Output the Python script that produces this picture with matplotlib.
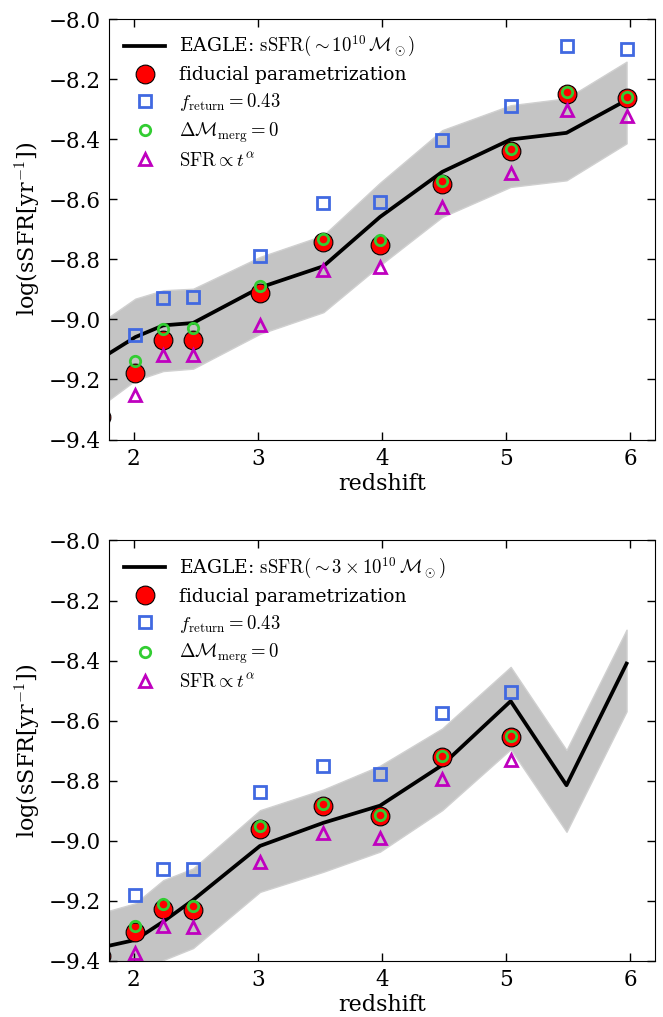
import matplotlib
matplotlib.use('Agg')
from matplotlib import pyplot as plt

plt.rcParams['font.family'] = ['DejaVu Serif']
plt.rcParams['mathtext.fontset'] = 'cm'

# EAGLE snapshot redshifts
z_snap = [1.737, 2.012, 2.237, 2.478, 3.017, 3.528, 3.984, 4.485, 5.037, 5.487, 5.971]

# top panel: ~1e10 Msun
eagle_top = [-9.130, -9.059, -9.020, -9.012, -8.894, -8.823, -8.659, -8.509, -8.401, -8.379, -8.270]
eagle_top_hi = [-9.010, -8.931, -8.903, -8.898, -8.792, -8.720, -8.545, -8.370, -8.287, -8.264, -8.142]
eagle_top_lo = [-9.287, -9.203, -9.172, -9.164, -9.048, -8.976, -8.820, -8.659, -8.559, -8.537, -8.414]
fid_top = [-9.326, -9.177, -9.067, -9.067, -8.911, -8.744, -8.751, -8.548, -8.439, -8.248, -8.264]
fret_top = [-9.053, -8.929, -8.926, -8.790, -8.614, -8.610, -8.403, -8.290, -8.089, -8.101]
merg_top = [-9.137, -9.031, -9.030, -8.889, -8.731, -8.737, -8.540, -8.433, -8.242, -8.261]
talpha_top = [-9.251, -9.118, -9.118, -9.018, -8.837, -8.826, -8.626, -8.514, -8.303, -8.323]

# bottom panel: ~3e10 Msun
eagle_bot = [-9.355, -9.330, -9.269, -9.197, -9.017, -8.940, -8.883, -8.748, -8.535, -8.815, -8.410]
eagle_bot_hi = [-9.240, -9.208, -9.131, -9.092, -8.898, -8.829, -8.750, -8.626, -8.421, -8.698, -8.297]
eagle_bot_lo = [-9.520, -9.470, -9.397, -9.357, -9.170, -9.103, -9.036, -8.898, -8.695, -8.970, -8.569]
fid_bot = [-9.383, -9.303, -9.227, -9.231, -8.959, -8.885, -8.918, -8.721, -8.654]
fret_bot = [-9.181, -9.094, -9.094, -8.837, -8.752, -8.776, -8.576, -8.506]
merg_bot = [-9.283, -9.211, -9.216, -8.951, -8.876, -8.915, -8.717, -8.652]
talpha_bot = [-9.375, -9.283, -9.286, -9.070, -8.975, -8.992, -8.795, -8.732]

eagle_labels = [r'EAGLE: $\mathrm{sSFR}(\sim10^{10}\,\mathcal{M}_\odot)$',
                r'EAGLE: $\mathrm{sSFR}(\sim3\times10^{10}\,\mathcal{M}_\odot)$']

x_ticks = [2, 3, 4, 5, 6]
y_ticks = [-9.4, -9.2, -9.0, -8.8, -8.6, -8.4, -8.2, -8.0]

font_size = 16

fig, axes = plt.subplots(2, 1, figsize=(6.63, 10.17), dpi=100)
fig.subplots_adjust(left=0.1644, right=0.9879, top=0.9813, bottom=0.0551, hspace=0.24)

panels = [(eagle_top, eagle_top_hi, eagle_top_lo, fid_top, fret_top, merg_top, talpha_top),
          (eagle_bot, eagle_bot_hi, eagle_bot_lo, fid_bot, fret_bot, merg_bot, talpha_bot)]

for k, ax in enumerate(axes):
    line, hi, lo, fid, fret, merg, talpha = panels[k]
    n_fid = len(fid)
    n_other = len(fret)

    # EAGLE scatter band and median
    ax.fill_between(z_snap, lo, hi, facecolor='#c4c4c4', edgecolor='#d0d0d0', lw=1)
    ax.plot(z_snap, line, c='k', lw=2.7, label=eagle_labels[k])

    # model variants
    ax.plot(z_snap[:n_fid], fid, 'o', ms=13.5, mfc='r', mec='k', mew=0.8,
            label='fiducial parametrization')
    ax.plot(z_snap[1:1 + n_other], fret, 's', ms=8, mfc='none', mec='royalblue', mew=2,
            label=r'$f_{\mathrm{return}}=0.43$')
    ax.plot(z_snap[1:1 + n_other], merg, 'o', ms=7.5, mfc='none', mec='limegreen', mew=2,
            label=r'$\Delta\mathcal{M}_{\mathrm{merg}}=0$')
    ax.plot(z_snap[1:1 + n_other], talpha, '^', ms=8.5, mfc='none', mec='m', mew=2,
            label=r'$\mathrm{SFR}\propto t^{\alpha}$')

    ax.set_xlim(1.8, 6.2)
    ax.set_ylim(-9.4, -8.0)
    ax.set_xticks(x_ticks)
    ax.set_yticks(y_ticks)
    ax.tick_params(direction='in', top=True, right=True, length=6, width=1,
                   labelsize=15.5, pad=6)
    ax.set_xlabel('redshift', fontsize=font_size, labelpad=2)
    ax.set_ylabel(r'log(sSFR[yr$^{-1}$])', fontsize=font_size)

    ax.legend(loc='upper left', frameon=False, numpoints=1, fontsize=13.5,
              handlelength=2.2, handletextpad=0.75, labelspacing=0.38,
              borderaxespad=0.4)

fig.savefig('out.png', dpi=100)
